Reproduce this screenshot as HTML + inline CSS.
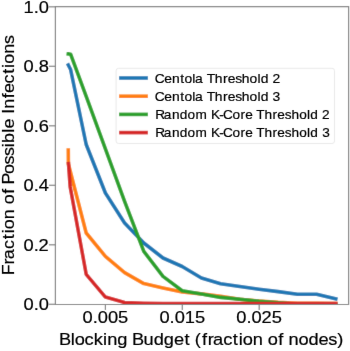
<!DOCTYPE html>
<html><head><meta charset="utf-8"><style>
html,body{margin:0;padding:0;background:#fff;width:350px;height:351px;overflow:hidden}
svg{display:block}
text{font-family:"Liberation Sans", sans-serif;stroke:#000;stroke-width:0.2px}
</style></head><body>
<svg width="350" height="351" viewBox="0 0 350 351">
<defs><filter id="bl" x="0" y="0" width="350" height="351" filterUnits="userSpaceOnUse"><feConvolveMatrix order="3" kernelMatrix="0.0081 0.0738 0.0081 0.0738 0.6724 0.0738 0.0081 0.0738 0.0081" divisor="1" edgeMode="duplicate"/></filter><filter id="bt" x="0" y="0" width="350" height="351" filterUnits="userSpaceOnUse"><feConvolveMatrix order="3" kernelMatrix="0.0016 0.0368 0.0016 0.0368 0.8464 0.0368 0.0016 0.0368 0.0016" divisor="1" edgeMode="duplicate"/></filter><clipPath id="ax"><rect x="55.4" y="6.6" width="293.2" height="297.9"/></clipPath></defs>
<g filter="url(#bl)">
<rect width="350" height="351" fill="#fff"/>
<g clip-path="url(#ax)">
<path d="M68.3,65.0 L70.6,69.5 L86.2,144.5 L105.4,193.0 L124.6,223.0 L143.8,243.0 L163.0,258.0 L182.2,266.5 L201.4,278.0 L220.6,283.7 L239.8,286.5 L259.0,289.2 L278.2,291.6 L297.4,294.2 L316.6,294.3 L335.8,298.9" fill="none" stroke="#1f77b4" stroke-width="3.6" stroke-linecap="square" stroke-linejoin="round"/>
<path d="M68.3,150.0 L68.4,164.0 L86.2,233.0 L105.4,256.4 L124.6,272.6 L143.8,283.6 L163.0,288.0 L182.2,292.0 L201.4,293.9 L220.6,296.2 L239.8,299.2 L259.0,301.0 L278.2,302.4 L297.4,303.2 L316.6,303.4 L335.8,303.5" fill="none" stroke="#ff7f0e" stroke-width="3.6" stroke-linecap="square" stroke-linejoin="round"/>
<path d="M68.3,53.9 L70.6,54.2 L86.2,96.3 L105.4,148.8 L124.6,201.3 L143.8,251.4 L163.0,276.4 L182.2,290.7 L201.4,294.0 L220.6,297.4 L239.8,299.3 L259.0,301.3 L278.2,302.8 L297.4,304.2 L316.6,304.2 L335.8,304.2" fill="none" stroke="#2ca02c" stroke-width="3.6" stroke-linecap="square" stroke-linejoin="round"/>
<path d="M68.5,163.7 L70.2,187.0 L86.2,274.3 L105.4,297.1 L124.6,302.5 L143.8,303.2 L163.0,303.6 L182.2,303.6 L201.4,303.6 L220.6,303.6 L239.8,303.6 L259.0,303.6 L278.2,303.6 L297.4,303.6 L316.6,303.6 L335.8,303.6" fill="none" stroke="#d62728" stroke-width="3.6" stroke-linecap="square" stroke-linejoin="round"/>
</g>
<g stroke="#7e7e7e" stroke-width="1.2" fill="none" stroke-linecap="square">
<path d="M55.4,6.6 L348.6,6.6 L348.6,304.5 L55.4,304.5 Z"/>
<path d="M49.6,304.3 L55.4,304.3"/>
<path d="M49.6,244.8 L55.4,244.8"/>
<path d="M49.6,185.3 L55.4,185.3"/>
<path d="M49.6,125.8 L55.4,125.8"/>
<path d="M49.6,66.3 L55.4,66.3"/>
<path d="M49.6,6.8 L55.4,6.8"/>
<path d="M105.4,304.5 L105.4,309.5"/>
<path d="M182.3,304.5 L182.3,309.5"/>
<path d="M259.2,304.5 L259.2,309.5"/>
</g>
<rect x="116.1" y="68.3" width="218.4" height="75.2" rx="2.5" ry="2.5" fill="#fff" stroke="#e9e9e9" stroke-width="1"/>
<path d="M120.9,78.0 L146.1,78.0" stroke="#1f77b4" stroke-width="3.6" stroke-linecap="square"/>
<path d="M120.9,96.2 L146.1,96.2" stroke="#ff7f0e" stroke-width="3.6" stroke-linecap="square"/>
<path d="M120.9,114.4 L146.1,114.4" stroke="#2ca02c" stroke-width="3.6" stroke-linecap="square"/>
<path d="M120.9,132.6 L146.1,132.6" stroke="#d62728" stroke-width="3.6" stroke-linecap="square"/>
</g>
<g fill="#000" filter="url(#bt)">
<text transform="translate(23.55,310.40) scale(1.0796,1)" x="-0.00 9.42 14.14" y="0" font-size="16.95">0.0</text>
<text transform="translate(23.55,250.90) scale(1.0796,1)" x="-0.00 9.42 13.94" y="0" font-size="16.95">0.2</text>
<text transform="translate(23.55,191.40) scale(1.0796,1)" x="-0.00 9.42 14.14" y="0" font-size="16.95">0.4</text>
<text transform="translate(23.55,131.90) scale(1.0796,1)" x="-0.00 9.42 14.13" y="0" font-size="16.95">0.6</text>
<text transform="translate(23.55,72.40) scale(1.0796,1)" x="-0.00 9.42 14.14" y="0" font-size="16.95">0.8</text>
<text transform="translate(23.55,12.90) scale(1.0796,1)" x="-0.10 9.42 14.14" y="0" font-size="16.95">1.0</text>
<text transform="translate(82.50,323.10) scale(1.0796,1)" x="-0.00 9.42 14.14 23.56 32.94" y="0" font-size="16.95">0.005</text>
<text transform="translate(159.40,323.10) scale(1.0796,1)" x="-0.00 9.42 14.14 23.47 32.94" y="0" font-size="16.95">0.015</text>
<text transform="translate(236.30,323.10) scale(1.0796,1)" x="-0.00 9.42 14.14 23.37 32.94" y="0" font-size="16.95">0.025</text>
<text transform="translate(59.53,344.90) scale(1.0745,1)" x="-0.59 10.40 14.20 23.13 31.79 40.47 44.45 53.78 63.31 67.44 78.22 87.62 97.07 106.49 116.27 121.60 125.97 132.58 137.87 142.75 152.29 161.33 166.84 170.63 179.93 189.34 193.91 203.62 208.43 213.19 222.43 231.63 241.05 250.06 258.58" y="0" font-size="16.95">Blocking Budget (fraction of nodes)</text>
<g transform="translate(13.5,272.7) rotate(-90)"><text transform="translate(-1.57,0.00) scale(1.0560,1)" x="-0.87 9.27 14.28 23.97 33.13 38.73 42.63 52.10 61.64 66.32 76.17 81.06 84.97 94.88 104.04 111.94 120.24 124.40 134.06 138.03 147.42 152.07 156.78 166.76 171.57 180.65 189.82 195.42 199.32 208.78 218.09" y="0" font-size="16.95">Fraction of Possible Infections</text></g>
<text transform="translate(155.60,82.70) scale(1.0547,1)" x="-0.71 8.20 15.54 23.34 27.45 34.87 37.45 45.21 48.49 56.17 63.98 68.36 75.47 81.81 89.13 96.55 99.66 107.15 110.77" y="0" font-size="13.14">Centola Threshold 2</text>
<text transform="translate(155.60,100.77) scale(1.0547,1)" x="-0.71 8.20 15.54 23.34 27.45 34.87 37.45 45.21 48.49 56.17 63.98 68.36 75.47 81.81 89.13 96.55 99.66 107.15 110.95" y="0" font-size="13.14">Centola Threshold 3</text>
<text transform="translate(155.60,118.84) scale(1.0376,1)" x="-0.41 7.85 15.79 23.27 30.79 38.48 49.81 53.32 61.34 65.04 74.04 81.83 86.30 93.68 97.05 104.85 112.77 117.24 124.46 130.91 138.35 145.86 149.05 156.64 160.35" y="0" font-size="13.14">Random K-Core Threshold 2</text>
<text transform="translate(155.60,136.91) scale(1.0376,1)" x="-0.41 7.85 15.79 23.27 30.79 38.48 49.81 53.32 61.34 65.04 74.04 81.83 86.30 93.68 97.05 104.85 112.77 117.24 124.46 130.91 138.35 145.86 149.05 156.64 160.53" y="0" font-size="13.14">Random K-Core Threshold 3</text>
</g>

</svg>
</body></html>
